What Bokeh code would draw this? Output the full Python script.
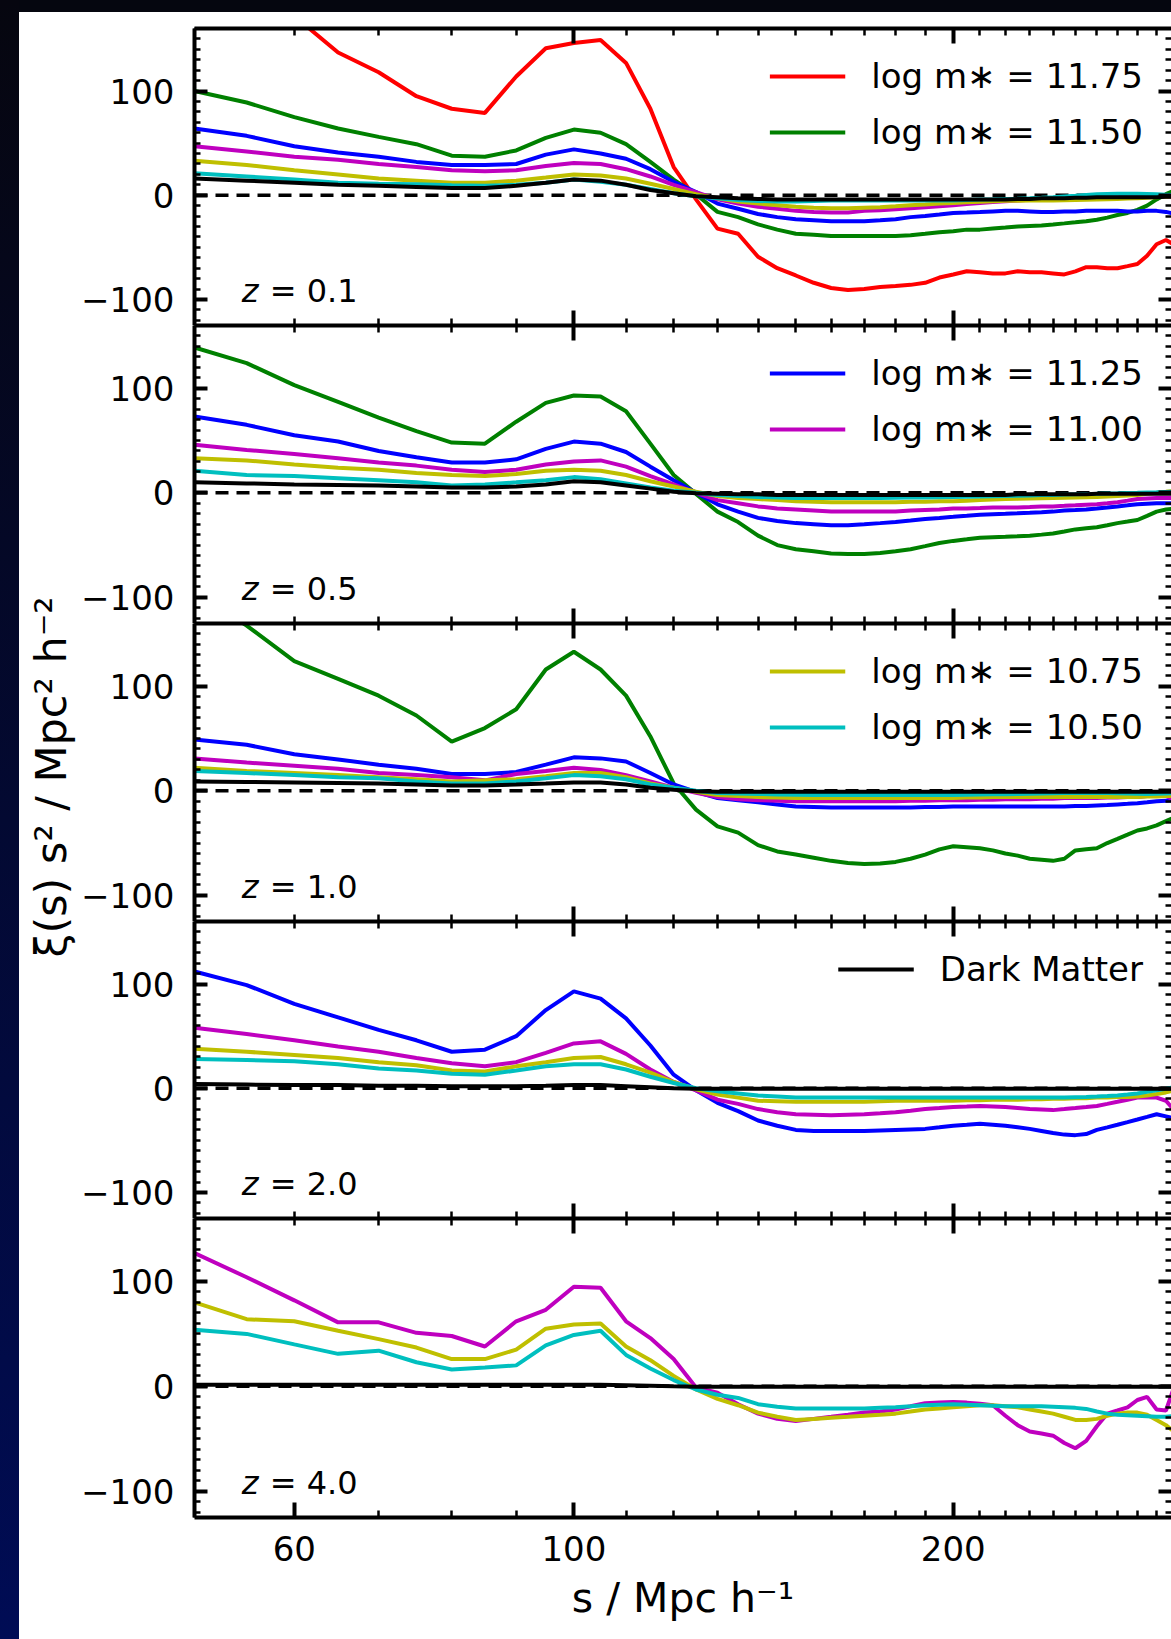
import math

from bokeh.core.properties import value
from bokeh.embed import file_html
from bokeh.layouts import column, row
from bokeh.models import (BasicTickFormatter, Div, FixedTicker, Label, Legend,
                          LegendItem, LinearAxis, LogAxis, Range1d, Span)
from bokeh.plotting import figure
from bokeh.resources import INLINE

# pair separation s [Mpc/h]
s = [50, 55, 60, 65, 70, 75, 80, 85, 90, 95,
     100, 105, 110, 115, 120, 125, 130, 135, 140, 145,
     150, 155, 160, 165, 170, 175, 180, 185, 190, 195,
     200, 205, 210, 215, 220, 225, 230, 235, 240, 245,
     250, 255, 260, 265, 270, 275, 280, 285, 290, 295,
     300]

# ---- z = 0.1 : xi(s) s^2 ----
z01_m1175 = [240, 205, 172, 137, 118, 95, 83, 79, 114, 141,
             146, 149, 127, 83, 27, -4, -32, -37, -59, -70,
             -77, -84, -89, -91, -90, -88, -87, -86, -84, -79,
             -76, -73, -74, -75, -75, -73, -74, -74, -75, -76,
             -73, -69, -69, -70, -70, -68, -66, -58, -47, -43,
             -48]
z01_m1150 = [100, 89, 75, 64, 56, 49, 38, 37, 43, 55,
             63, 60, 49, 32, 15, 1, -16, -21, -28, -33,
             -37, -38, -39, -39, -39, -39, -39, -38.5, -37, -35.5,
             -34.5, -33, -33, -32, -31, -30, -29.5, -29, -28, -27,
             -26, -25, -23.5, -21.5, -19, -17, -14, -10, -4, 1,
             5]
z01_m1125 = [64, 57, 47, 41, 37, 32, 29, 29, 30, 39,
             44, 40, 35, 25, 13, 3, -8, -13, -18, -21,
             -23, -24, -25, -25, -25, -24, -23, -21, -20, -18.5,
             -17, -16.5, -16, -15.5, -15, -15, -15.5, -16, -16, -15.5,
             -15.5, -15, -15, -15, -15, -15.5, -15.5, -15, -15, -16,
             -18]
z01_m1100 = [47, 42, 37, 34, 30, 27, 24, 23, 24, 28,
             31, 30, 25, 18, 10, 3, -4, -8, -11, -13,
             -15, -16, -16.5, -16.5, -15, -14.5, -13.5, -12.5, -11.5, -10.5,
             -9.5, -8.5, -7.5, -6.5, -5.7, -5, -4.3, -4, -3.6, -3.2,
             -3, -2.7, -2.3, -2, -2, -1.8, -1.6, -1.6, -1.6, -1.6,
             -1.6]
z01_m1075 = [33, 29, 24, 20, 16, 14, 12, 12, 14, 17,
             20, 19, 16, 11, 6, 1, -3, -6, -8, -9.5,
             -11, -12, -12.5, -12.5, -12, -11.5, -10.5, -9.5, -8.8, -8,
             -7.5, -6.8, -6.2, -5.7, -5.4, -5.2, -5, -5, -5, -4.8,
             -4.5, -4.3, -4, -3.8, -3.5, -3.2, -3, -2.5, -2, -1.5,
             -1]
z01_m1050 = [21, 18, 15, 12, 11, 10.5, 9.5, 9, 10, 12,
             15, 13, 10, 6, 2, -1, -3, -4.5, -5.5, -6,
             -6, -5.5, -5, -5, -5, -5, -5, -5, -5, -5,
             -5, -4.5, -4, -3.8, -3.5, -3.3, -3, -2.5, -2, -1.2,
             -0.5, 0.3, 1, 1.3, 1.5, 1.5, 1.5, 1.3, 1, 0.5,
             0]
z01_dm = [16, 14, 12, 10, 9, 8, 7, 7, 9, 12,
          15, 14, 10, 5, 2, -1, -2, -3, -3.5, -4,
          -4, -4, -4, -4, -4, -4, -4, -4, -4, -4,
          -4, -4, -4, -4, -4, -3.5, -3.5, -3, -3, -3,
          -2.5, -2.5, -2, -2, -2, -2, -2, -2, -2, -1.5,
          -1.5]

# ---- z = 0.5 ----
z05_m1150 = [139, 124, 103, 87, 72, 59, 48, 47, 68, 86,
             93, 92, 78, 47, 17, -1, -18, -28, -41, -50,
             -54, -56, -58, -58.5, -58.5, -57.5, -56, -54, -51, -48,
             -46, -44.5, -43, -42.5, -42, -41.5, -41, -40, -39, -37,
             -35, -34, -33, -31, -29, -27.5, -26, -22, -18, -16,
             -15]
z05_m1125 = [73, 65, 55, 49, 40, 34, 29, 29, 32, 42,
             49, 47, 39, 25, 12, 0, -11, -18, -24, -27,
             -29, -30, -31, -31, -30, -29, -28, -26.5, -25, -24,
             -23, -22, -21, -20.5, -20, -19.5, -19, -18.5, -18, -17,
             -16.5, -16, -15, -14, -13, -12, -11, -10.5, -10, -10,
             -10]
z05_m1100 = [46, 41, 37, 33, 29, 26, 22, 20, 22, 27,
             30, 31, 25, 16, 8, 0, -7, -10, -13, -15,
             -16, -17, -18, -18, -18, -18, -18, -17, -16.5, -16,
             -15, -15, -14.5, -14, -14, -14, -13.5, -13, -13, -12.5,
             -12, -11.5, -11, -10, -9, -7.5, -6, -5.5, -5, -5,
             -5]
z05_m1075 = [33, 31, 27, 24, 22, 19, 17, 16, 18, 21,
             22, 21, 17, 11, 6, 1, -3, -5, -6, -7,
             -8, -8.5, -9, -9, -9, -9, -9, -8.5, -8.5, -8,
             -8, -7.5, -7, -6.5, -6, -5.8, -5.5, -5.2, -5, -4.7,
             -4.5, -4.2, -4, -3.5, -3, -2.5, -2, -1, 0, 1,
             2]
z05_m1050 = [21, 17, 16, 14, 12, 10, 7, 8, 10, 12,
             15, 13, 9, 5, 2, 0, -2, -3, -4, -4.5,
             -5, -5, -5, -5, -5, -5, -4.8, -4.6, -4.4, -4.2,
             -4, -3.8, -3.5, -3.3, -3, -2.8, -2.5, -2.2, -2, -1.7,
             -1.5, -1.2, -1, -0.7, -0.5, -0.2, 0, 0.3, 0.5, 0.8,
             1]
z05_dm = [10, 9, 8, 7.5, 7, 6, 5, 5, 6, 8,
          11, 10, 7, 4, 1, -0.5, -1, -1.5, -1.5, -2,
          -2, -2, -2, -2, -2, -2, -2, -2, -2, -2,
          -2, -2, -2, -2, -2, -1.5, -1.5, -1.5, -1.5, -1.5,
          -1.5, -1.5, -1, -1, -1, -1, -1, -1, -1, -1,
          -1]

# ---- z = 1.0 ----
z10_m1150 = [190, 158, 124, 107, 91, 72, 47, 60, 78, 116,
             133, 116, 91, 52, 7, -18, -34, -40, -52, -58,
             -61, -64, -67, -69, -70, -69.5, -68, -65, -61, -56,
             -53, -54, -55, -57, -60, -62, -65, -66, -67, -65,
             -57, -56, -55, -50, -46, -42, -38, -36, -33, -29,
             -25]
z10_m1125 = [49, 44, 35, 30, 25, 21, 16, 16, 18, 25,
             32, 31, 28, 17, 6, -1, -7, -9, -11, -13,
             -15, -15.5, -16, -16, -16, -16, -16, -16, -15.5, -15.5,
             -15, -15, -15, -15, -15, -15, -15, -15, -15, -15,
             -14.5, -14.5, -14, -13.5, -13, -12.5, -12, -11, -10, -9.5,
             -9]
z10_m1100 = [31, 27, 24, 21, 17, 15, 13, 10, 16, 19,
             22, 20, 15, 9, 3, -2, -6, -8, -9, -9.5,
             -10, -10, -10, -10, -10, -10, -10, -9.5, -9.5, -9,
             -9, -9, -8.5, -8.5, -8, -8, -8, -7.5, -7.5, -7,
             -7, -7, -7, -6.5, -6.5, -6, -6, -5, -4, -5,
             -9]
z10_m1075 = [22, 19, 17, 15, 13, 11, 9, 10, 11, 14,
             17, 17, 13, 7, 3, -1, -4, -5, -6, -6.5,
             -7, -7, -7, -7, -7, -7, -7, -7, -7, -7,
             -7, -6.5, -6.5, -6, -6, -6, -6, -6, -6, -6,
             -6, -6, -6, -6, -6, -6, -6, -5.5, -5.5, -5,
             -5]
z10_m1050 = [19, 17, 15, 13, 12, 9, 7, 7, 9, 12,
             15, 14, 11, 6, 3, 0, -2, -2.5, -3, -3.5,
             -3.8, -4, -4, -4, -4, -4, -4, -4, -4, -4,
             -4, -3.8, -3.6, -3.4, -3.2, -3, -2.8, -2.6, -2.4, -2.2,
             -2, -2, -2, -2.2, -2.4, -2.6, -2.8, -3, -2.8, -2.5,
             -2]
z10_dm = [9, 8.5, 8, 7.5, 7, 6, 5, 5, 6, 7,
          8, 8, 6, 3, 1, -0.5, -1, -1, -1, -1,
          -1, -1, -1, -1, -1, -1, -1, -1, -1, -1,
          -1, -1, -1, -1, -1, -1, -1, -1, -1, -1,
          -1, -1, -1, -1, -1, -1, -1, -1, -1, -1,
          -1]

# ---- z = 2.0 ----
z20_m1125 = [112, 99, 81, 68, 56, 46, 35, 37, 50, 75,
             93, 86, 67, 41, 13, -2, -14, -22, -31, -36,
             -40, -41, -41, -41, -41, -40.5, -40, -39.5, -39, -37.5,
             -36, -35, -34, -35, -36, -37.5, -39, -41, -43, -44.5,
             -45, -44, -40, -37.5, -35, -32.5, -30, -27.5, -25, -27,
             -29]
z20_m1100 = [58, 52, 46, 40, 35, 29, 24, 21, 25, 34,
             43, 45, 33, 18, 6, -2, -11, -15, -20, -23,
             -25, -25.5, -26, -25.5, -25, -24, -23, -21.5, -20, -19,
             -18, -17.5, -17, -17.5, -18, -19, -20, -20.5, -21, -20,
             -19, -18, -17, -15, -13, -11, -9, -9, -9, -12,
             -22]
z20_m1075 = [38, 35, 32, 29, 25, 22, 17, 16, 21, 25,
             29, 30, 23, 15, 6, -1, -6, -9, -12, -12.5,
             -13, -13, -13, -13, -13, -12.5, -12, -12, -12, -12,
             -12, -11.5, -11.5, -11, -11, -11, -10.5, -10.5, -10, -10,
             -9.5, -9.5, -9, -9, -8.5, -8.5, -8, -7, -5.5, -4,
             -2]
z20_m1050 = [28, 27, 26, 23, 19, 17, 14, 13, 17, 21,
             23, 23, 18, 11, 5, 0, -3, -5, -7, -8,
             -9, -9, -9, -9, -9, -9, -9, -9, -9, -9,
             -9, -9, -9, -9, -9, -9, -9, -9, -9, -8.8,
             -8.6, -8.4, -8, -7.5, -7, -6, -5, -3.5, -2, -0.5,
             1]
z20_dm = [4, 3.5, 3, 3, 2.5, 2.5, 2, 2, 2, 2.5,
          3, 3, 2, 1, 0, -0.5, -0.5, -0.5, -0.5, -0.5,
          -0.5, -0.5, -0.5, -0.5, -0.5, -0.5, -0.5, -0.5, -0.5, -0.5,
          -0.5, -0.5, -0.5, -0.5, -0.5, -0.5, -0.5, -0.5, -0.5, -0.5,
          -0.5, -0.5, -0.5, -0.5, -0.5, -0.5, -0.5, -0.5, -0.5, -0.5,
          -0.5]

# ---- z = 4.0 ----
z40_m1100 = [127, 104, 82, 61, 61, 51, 48, 38, 62, 73,
             95, 94, 62, 46, 26, -1, -6, -17, -26, -31,
             -33, -31, -29, -27, -25, -24, -22, -19, -16, -15.5,
             -15, -15.5, -16.5, -18, -28, -37, -43, -45, -47, -54,
             -59, -52, -38, -26, -23, -20, -13, -10, -22, -23,
             2]
z40_m1075 = [80, 64, 62, 53, 45, 37, 26, 26, 35, 55,
             59, 60, 38, 25, 10, -3, -12, -18, -25, -29,
             -32, -31, -30, -29, -28, -27, -26, -24, -22, -21,
             -20, -19, -18, -18, -19, -20, -22, -24, -26, -29,
             -32, -32, -31, -28, -26, -25, -25, -27, -32, -37,
             -44]
z40_m1050 = [54, 50, 40, 31, 34, 23, 16, 18, 20, 39,
             49, 53, 30, 17, 6, -3, -8, -11, -17, -19.5,
             -21, -21, -21, -21, -21, -20.5, -20, -19, -18, -17.5,
             -17, -17.5, -18, -18.5, -19, -19, -19, -19, -19.5, -20,
             -20.5, -21.5, -24, -26, -27, -27.5, -28, -28.5, -29, -29,
             -28]
z40_dm = [1.5, 1.5, 1.5, 1.5, 1.5, 1.5, 1.5, 1.5, 1.5, 1.5,
          1.5, 1.5, 1, 0.5, 0, -0.3, -0.3, -0.3, -0.3, -0.3,
          -0.3, -0.3, -0.3, -0.3, -0.3, -0.3, -0.3, -0.3, -0.3, -0.3,
          -0.3, -0.3, -0.3, -0.3, -0.3, -0.3, -0.3, -0.3, -0.3, -0.3,
          -0.3, -0.3, -0.3, -0.3, -0.3, -0.3, -0.3, -0.3, -0.3, -0.3,
          -0.3]

redshifts = ["0.1", "0.5", "1.0", "2.0", "4.0"]
mass_bins = ["11.75", "11.50", "11.25", "11.00", "10.75", "10.50"]
mass_colors = {"11.75": "#ff0000", "11.50": "#008000", "11.25": "#0000ff",
               "11.00": "#bf00bf", "10.75": "#bfbf00", "10.50": "#00bfbf"}

galaxy_curves = [
    {"11.75": z01_m1175, "11.50": z01_m1150, "11.25": z01_m1125,
     "11.00": z01_m1100, "10.75": z01_m1075, "10.50": z01_m1050},
    {"11.50": z05_m1150, "11.25": z05_m1125, "11.00": z05_m1100,
     "10.75": z05_m1075, "10.50": z05_m1050},
    {"11.50": z10_m1150, "11.25": z10_m1125, "11.00": z10_m1100,
     "10.75": z10_m1075, "10.50": z10_m1050},
    {"11.25": z20_m1125, "11.00": z20_m1100, "10.75": z20_m1075,
     "10.50": z20_m1050},
    {"11.00": z40_m1100, "10.75": z40_m1075, "10.50": z40_m1050},
]
dm_curves = [z01_dm, z05_dm, z10_dm, z20_dm, z40_dm]
# which entries each panel's legend carries
legend_entries = [["11.75", "11.50"], ["11.25", "11.00"], ["10.75", "10.50"], ["DM"], []]

for curve in dm_curves:
    assert len(curve) == len(s)
for group in galaxy_curves:
    for curve in group.values():
        assert len(curve) == len(s)

FONT = "DejaVu Sans"
FRAME_W = 977
LEFT = 118          # left border of each panel (tick labels live here)
YLAB_W = 57         # strip holding the shared y-axis title
frame_heights = [297, 298, 298, 297, 299]
TOP_PAD, BOTTOM_PAD = 16, 122
X_MAJOR = [100, 200]
X_MINOR = [50, 60, 70, 80, 90, 110, 120, 130, 140, 150, 160, 170, 180, 190,
           210, 220, 230, 240, 250, 260, 270, 280, 290, 300]
Y_MAJOR = [-100, 0, 100]
Y_MINOR = [v for v in range(-120, 161, 10) if v not in Y_MAJOR]

x_range = Range1d(50, 298)


def style_axis(ax, horizontal, labels, line=True):
    ax.axis_line_color = "black" if line else None
    ax.axis_line_width = 4
    ax.major_tick_out = 0
    ax.minor_tick_out = 0
    ax.major_tick_in = 15 if horizontal else 13
    ax.minor_tick_in = 7 if horizontal else 6
    ax.major_tick_line_width = 4
    ax.minor_tick_line_width = 2.5
    ax.major_tick_line_color = "black"
    ax.minor_tick_line_color = "black"
    ax.major_label_text_font = FONT
    if labels:
        ax.major_label_text_color = "black"
        ax.major_label_text_font_size = "34px"
        ax.major_label_standoff = 18 if horizontal else 20
    else:
        ax.major_label_text_color = None
        ax.major_label_text_font_size = "0px"
        ax.major_label_standoff = 0
    ax.axis_label_text_font = FONT
    ax.axis_label_text_font_size = "41px"
    ax.axis_label_text_font_style = "normal"
    ax.axis_label_text_color = "black"


figs = []
n = len(redshifts)
for i in range(n):
    first, last = i == 0, i == n - 1
    p = figure(frame_width=FRAME_W, frame_height=frame_heights[i],
               x_axis_type="log", x_range=x_range, y_range=Range1d(-125, 160),
               output_backend="svg", toolbar_location=None,
               min_border_left=LEFT, min_border_right=0,
               min_border_top=TOP_PAD if first else 0,
               min_border_bottom=BOTTOM_PAD if last else 0,
               background_fill_color="white", border_fill_color="white",
               outline_line_color=None)
    p.grid.visible = False

    # bottom axis
    xb = p.below[0]
    xb.ticker = FixedTicker(ticks=[60] + X_MAJOR if last else X_MAJOR, minor_ticks=X_MINOR)
    xb.formatter = BasicTickFormatter()
    style_axis(xb, True, last)
    if last:
        xb.axis_label = "s / Mpc h\u207b\u00b9"
        xb.axis_label_standoff = 10

    # top axis, ticks only
    xt = LogAxis(ticker=FixedTicker(ticks=X_MAJOR, minor_ticks=X_MINOR))
    style_axis(xt, True, False)
    p.add_layout(xt, "above")

    # left axis
    yl = p.left[0]
    yl.ticker = FixedTicker(ticks=Y_MAJOR, minor_ticks=Y_MINOR)
    yl.major_label_overrides = {-100: "\u2212100", 0: "0", 100: "100"}
    style_axis(yl, False, True)

    # right axis, ticks only
    yr = LinearAxis(ticker=FixedTicker(ticks=Y_MAJOR, minor_ticks=Y_MINOR))
    style_axis(yr, False, False, line=False)
    p.add_layout(yr, "right")

    p.add_layout(Span(location=0, dimension="width", line_color="black",
                      line_width=3.5, line_dash="13 8", level="underlay"))

    renderers = {}
    for m in mass_bins:
        if m in galaxy_curves[i]:
            renderers[m] = p.line(s, galaxy_curves[i][m], line_color=mass_colors[m],
                                  line_width=4)
    renderers["DM"] = p.line(s, dm_curves[i], line_color="black", line_width=4)

    items = []
    for key in legend_entries[i]:
        text = "Dark Matter" if key == "DM" else "log m\u2217 = " + key
        items.append(LegendItem(label=value(text), renderers=[renderers[key]]))
    if items:
        legend = Legend(items=items, location="top_right",
                        border_line_color=None, background_fill_alpha=0,
                        label_text_font=FONT, label_text_font_size="34px",
                        label_text_color="black",
                        glyph_width=76, glyph_height=38, label_height=38,
                        label_standoff=26, spacing=16, padding=0, margin=28)
        if "DM" not in legend_entries[i]:
            legend.label_width = 268
        p.add_layout(legend)

    p.add_layout(Label(x=54.5, y=-92, text="z", text_font=FONT,
                       text_font_size="32px", text_font_style="italic",
                       text_color="black", text_baseline="middle"))
    p.add_layout(Label(x=54.5, y=-92, x_offset=28, text="= " + redshifts[i],
                       text_font=FONT, text_font_size="32px",
                       text_color="black", text_baseline="middle"))
    figs.append(p)

# shared y-axis title, drawn on its own narrow canvas beside the panels
panels_h = TOP_PAD + sum(frame_heights) + BOTTOM_PAD
ylab = figure(frame_width=YLAB_W, frame_height=panels_h,
              x_range=Range1d(0, YLAB_W), y_range=Range1d(panels_h, 0),
              x_axis_location=None, y_axis_location=None,
              output_backend="svg", toolbar_location=None, min_border=0,
              background_fill_color="white", border_fill_color="white",
              outline_line_color=None)
ylab.grid.visible = False
ylab.add_layout(Label(x=31, y=TOP_PAD + sum(frame_heights) / 2 + 4,
                      text="\u03be(s) s\u00b2 / Mpc\u00b2 h\u207b\u00b2",
                      angle=math.pi / 2, text_font=FONT, text_font_size="43px",
                      text_color="black", text_align="center",
                      text_baseline="middle"))

top_band = Div(text="", width=1152, height=12, margin=0,
               styles={"background": "#05060f"})
left_strip = Div(text="", width=19, height=1639, margin=0,
                 styles={"background": "linear-gradient(#06060f, #000c55)"})

page = row(left_strip, column(top_band, row(ylab, column(*figs))))

open("out.html", "w").write(file_html(page, INLINE))
